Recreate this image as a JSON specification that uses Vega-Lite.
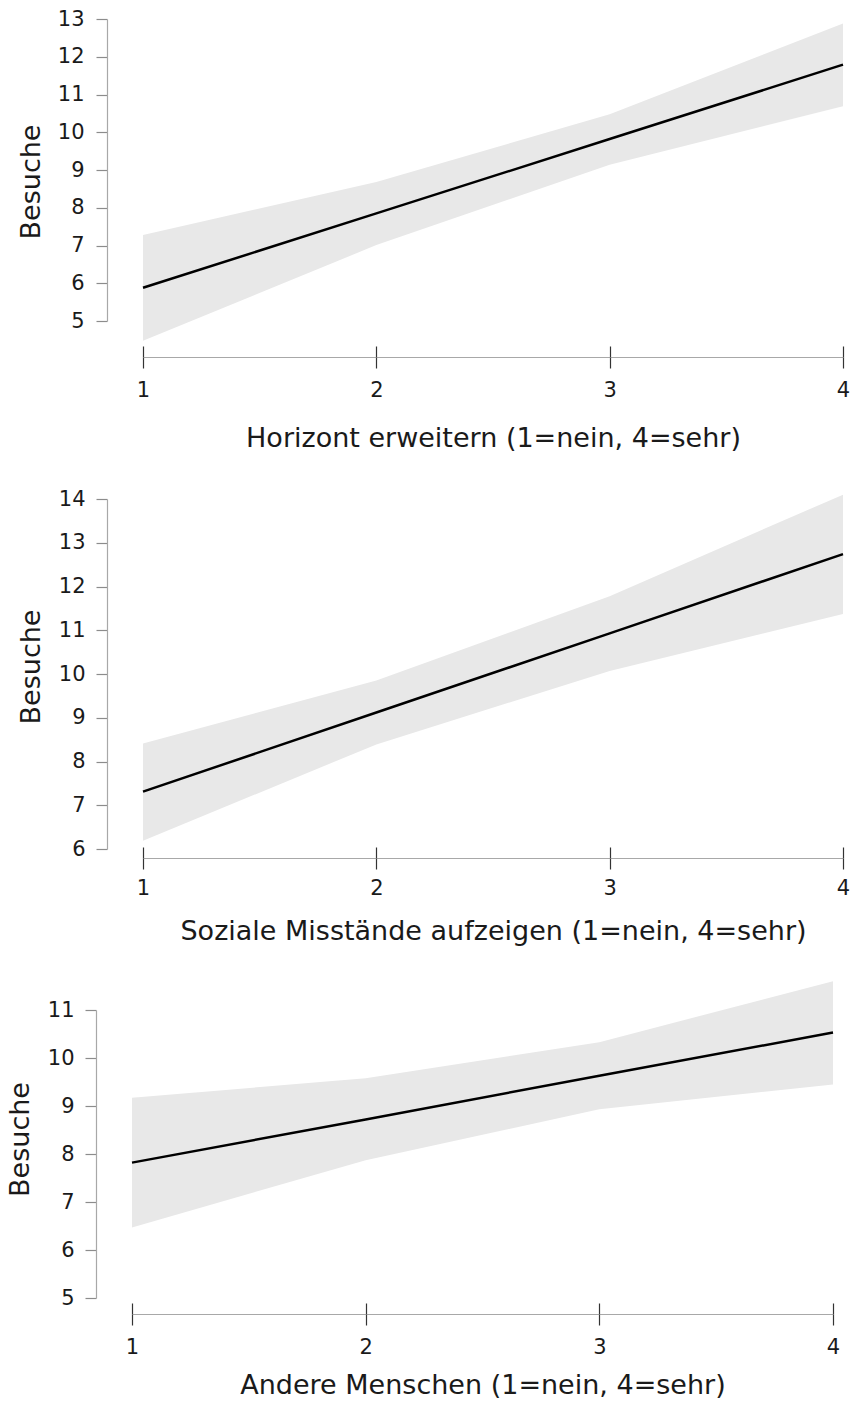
{
  "$schema": "https://vega.github.io/schema/vega-lite/v6.json",
  "padding": {"left": 6, "top": 0, "right": 0, "bottom": 0},
  "spacing": 0,
  "bounds": "flush",
  "config": {
    "view": {"stroke": null},
    "axis": {
      "labelFont": "DejaVu Sans", "titleFont": "DejaVu Sans",
      "labelFontSize": 21, "titleFontSize": 27, "titleFontWeight": "normal",
      "labelColor": "#1a1a1a", "titleColor": "#1a1a1a",
      "grid": false, "domainColor": "#a8a8a8", "tickColor": "#8c8c8c",
      "tickSize": 11, "domainWidth": 1.2, "tickWidth": 1.2
    }
  },
  "vconcat": [
    {
      "width": 712, "height": 467,
      "data": {"values": [
        {"x": 1, "lo": 4.48, "hi": 7.28, "fit": 5.88},
        {"x": 2, "lo": 7.01, "hi": 8.68, "fit": 7.85},
        {"x": 3, "lo": 9.14, "hi": 10.48, "fit": 9.82},
        {"x": 4, "lo": 10.69, "hi": 12.88, "fit": 11.79}
      ]},
      "layer": [
        {
          "mark": {"type": "area", "color": "#e8e8e8", "opacity": 1, "clip": false},
          "encoding": {
            "x": {"field": "x", "type": "quantitative", "scale": {"domain": [1, 4], "range": [11, 711], "nice": false, "zero": false},
                  "axis": {"orient": "bottom", "values": [1, 2, 3, 4], "format": "d", "offset": -110, "tickColor": "#333333", "labelPadding": 11, "labelFlush": false, "title": "Horizont erweitern (1=nein, 4=sehr)", "titlePadding": 25}},
            "y": {"field": "lo", "type": "quantitative", "scale": {"domain": [5, 13], "range": [321, 19], "nice": false, "zero": false},
                  "axis": {"values": [5, 6, 7, 8, 9, 10, 11, 12, 13], "offset": 25, "labelPadding": 12, "title": "Besuche", "titlePadding": 12, "titleY": 181.5}},
            "y2": {"field": "hi"}
          }
        },
        {
          "mark": {"type": "line", "color": "#000000", "strokeWidth": 2.5, "clip": false},
          "encoding": {
            "x": {"field": "x", "type": "quantitative", "scale": {"domain": [1, 4], "range": [11, 711], "nice": false, "zero": false},
                  "axis": {"orient": "bottom", "values": [1, 2, 3, 4], "offset": -121, "domain": false, "labels": false, "title": null, "tickColor": "#333333"}},
            "y": {"field": "fit", "type": "quantitative",
                  "axis": {"values": [5, 6, 7, 8, 9, 10, 11, 12, 13], "offset": 25, "labelPadding": 12, "title": "Besuche", "titlePadding": 12, "titleY": 181.5}}
          }
        }
      ],
      "resolve": {"scale": {"x": "independent"}, "axis": {"x": "independent"}}
    },
    {
      "width": 712, "height": 467,
      "data": {"values": [
        {"x": 1, "lo": 6.19, "hi": 8.41, "fit": 7.31},
        {"x": 2, "lo": 8.39, "hi": 9.85, "fit": 9.12},
        {"x": 3, "lo": 10.07, "hi": 11.78, "fit": 10.93},
        {"x": 4, "lo": 11.37, "hi": 14.1, "fit": 12.74}
      ]},
      "layer": [
        {
          "mark": {"type": "area", "color": "#e8e8e8", "opacity": 1, "clip": false},
          "encoding": {
            "x": {"field": "x", "type": "quantitative", "scale": {"domain": [1, 4], "range": [11, 711], "nice": false, "zero": false},
                  "axis": {"orient": "bottom", "values": [1, 2, 3, 4], "format": "d", "offset": -76, "tickColor": "#333333", "labelPadding": 8, "labelFlush": false, "title": "Soziale Misstände aufzeigen (1=nein, 4=sehr)", "titlePadding": 20}},
            "y": {"field": "lo", "type": "quantitative", "scale": {"domain": [6, 14], "range": [382, 32], "nice": false, "zero": false},
                  "axis": {"values": [6, 7, 8, 9, 10, 11, 12, 13, 14], "offset": 25, "labelPadding": 11, "title": "Besuche", "titlePadding": 13, "titleY": 199.5}},
            "y2": {"field": "hi"}
          }
        },
        {
          "mark": {"type": "line", "color": "#000000", "strokeWidth": 2.5, "clip": false},
          "encoding": {
            "x": {"field": "x", "type": "quantitative", "scale": {"domain": [1, 4], "range": [11, 711], "nice": false, "zero": false},
                  "axis": {"orient": "bottom", "values": [1, 2, 3, 4], "offset": -87, "domain": false, "labels": false, "title": null, "tickColor": "#333333"}},
            "y": {"field": "fit", "type": "quantitative",
                  "axis": {"values": [6, 7, 8, 9, 10, 11, 12, 13, 14], "offset": 25, "labelPadding": 11, "title": "Besuche", "titlePadding": 13, "titleY": 199.5}}
          }
        }
      ],
      "resolve": {"scale": {"x": "independent"}, "axis": {"x": "independent"}}
    },
    {
      "width": 712, "height": 467,
      "data": {"values": [
        {"x": 1, "lo": 6.47, "hi": 9.17, "fit": 7.82},
        {"x": 2, "lo": 7.87, "hi": 9.58, "fit": 8.72},
        {"x": 3, "lo": 8.93, "hi": 10.33, "fit": 9.63},
        {"x": 4, "lo": 9.45, "hi": 11.6, "fit": 10.53}
      ]},
      "layer": [
        {
          "mark": {"type": "area", "color": "#e8e8e8", "opacity": 1, "clip": false},
          "encoding": {
            "x": {"field": "x", "type": "quantitative", "scale": {"domain": [1, 4], "range": [0, 701], "nice": false, "zero": false},
                  "axis": {"orient": "bottom", "values": [1, 2, 3, 4], "format": "d", "offset": -87, "tickColor": "#333333", "labelPadding": 11, "labelFlush": false, "title": "Andere Menschen (1=nein, 4=sehr)", "titlePadding": 15}},
            "y": {"field": "lo", "type": "quantitative", "scale": {"domain": [5, 11], "range": [364, 76], "nice": false, "zero": false},
                  "axis": {"values": [5, 6, 7, 8, 9, 10, 11], "offset": 36, "labelPadding": 11, "title": "Besuche", "titlePadding": 13, "titleY": 205}},
            "y2": {"field": "hi"}
          }
        },
        {
          "mark": {"type": "line", "color": "#000000", "strokeWidth": 2.5, "clip": false},
          "encoding": {
            "x": {"field": "x", "type": "quantitative", "scale": {"domain": [1, 4], "range": [0, 701], "nice": false, "zero": false},
                  "axis": {"orient": "bottom", "values": [1, 2, 3, 4], "offset": -98, "domain": false, "labels": false, "title": null, "tickColor": "#333333"}},
            "y": {"field": "fit", "type": "quantitative",
                  "axis": {"values": [5, 6, 7, 8, 9, 10, 11], "offset": 36, "labelPadding": 11, "title": "Besuche", "titlePadding": 13, "titleY": 205}}
          }
        }
      ],
      "resolve": {"scale": {"x": "independent"}, "axis": {"x": "independent"}}
    }
  ]
}
